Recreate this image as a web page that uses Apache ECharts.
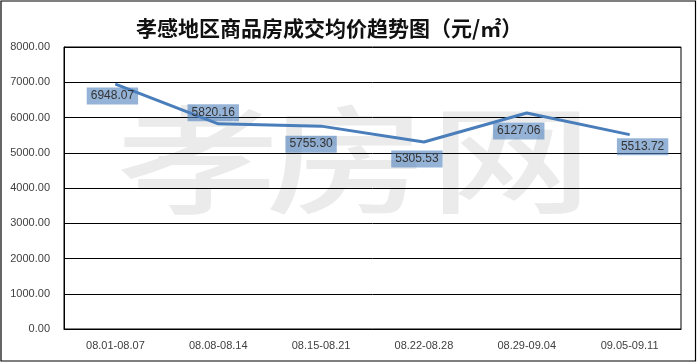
<!DOCTYPE html>
<html>
<head>
<meta charset="utf-8">
<script src="https://cdn.jsdelivr.net/npm/echarts@6/dist/echarts.min.js"></script>
<style>html,body{margin:0;padding:0;background:#fff;}#c{width:697px;height:363px;}</style>
</head>
<body>
<div id="c"></div>
<script>
var categories = ['08.01-08.07','08.08-08.14','08.15-08.21','08.22-08.28','08.29-09.04','09.05-09.11'];
var prices = [6948.07, 5820.16, 5755.30, 5305.53, 6127.06, 5513.72];
var yTicks = [0, 1000, 2000, 3000, 4000, 5000, 6000, 7000, 8000];
var labelOffsets = [[-3,12],[-5,-11],[-10,18],[-7,17],[-8,18],[13,12]];

var chart = echarts.init(document.getElementById('c'));
var data = prices.map(function(v, i){
  return { value: v, label: { offset: labelOffsets[i] } };
});
function wm(ch, x){
  return { type: 'text', z: -1, x: x, y: 159, scaleX: 1.18, scaleY: 0.85,
    style: { text: ch, font: '500 138px "Noto Sans CJK SC"', fill: '#ebebeb', align: 'center', verticalAlign: 'middle' } };
}
chart.setOption({
  animation: false,
  backgroundColor: '#fff',
  title: {
    text: '孝感地区商品房成交均价趋势图（元/㎡）',
    left: 131,
    top: 13,
    textStyle: { fontFamily: 'Noto Sans CJK SC', fontWeight: 'bold', fontSize: 21, color: '#111' }
  },
  graphic: [
    { type: 'rect', z: 100, shape: { x: 1, y: 1, width: 694.5, height: 360 }, style: { fill: 'none', stroke: '#000', lineWidth: 1.2 } },
    wm('孝', 198), wm('房', 347), wm('网', 511)
  ],
  grid: { left: 64, right: 16, top: 47, bottom: 34, show: true, borderColor: '#000', borderWidth: 1, backgroundColor: 'transparent' },
  xAxis: {
    type: 'category',
    data: categories,
    boundaryGap: true,
    axisLine: { lineStyle: { color: '#000', width: 1 } },
    axisTick: { show: false },
    axisLabel: { margin: 11, fontSize: 11, color: '#404040', fontFamily: 'Liberation Sans' }
  },
  yAxis: {
    type: 'value',
    min: yTicks[0],
    max: yTicks[yTicks.length - 1],
    interval: 1000,
    axisLine: { show: true, lineStyle: { color: '#000', width: 1 } },
    axisTick: { show: false },
    splitLine: { lineStyle: { color: '#000', width: 1 } },
    axisLabel: { margin: 14, fontSize: 11, color: '#404040', fontFamily: 'Liberation Sans', formatter: function(v){ return v.toFixed(2); } }
  },
  series: [{
    type: 'line',
    data: data,
    symbol: 'circle',
    symbolSize: 1,
    itemStyle: { color: '#4a7ebb' },
    lineStyle: { color: '#4a7ebb', width: 3 },
    label: {
      show: true,
      position: 'inside',
      formatter: function(p){ return p.value.toFixed(2); },
      backgroundColor: 'rgba(79,129,189,0.6)',
      color: '#333',
      fontSize: 12,
      fontFamily: 'Liberation Sans',
      padding: [3, 4, 2, 4]
    }
  }]
});
</script>
</body>
</html>
